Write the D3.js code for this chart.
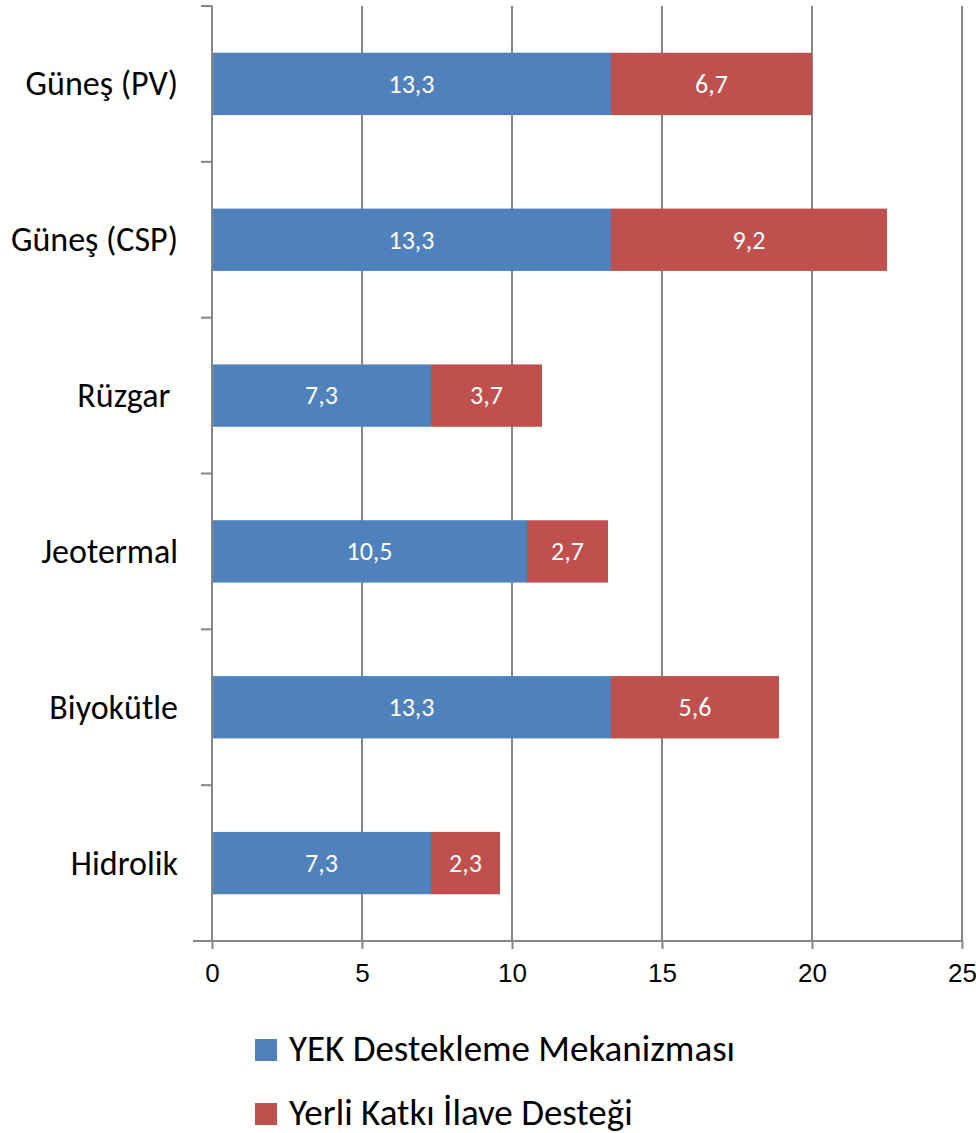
<!DOCTYPE html>
<html>
<head>
<meta charset="utf-8">
<script src="https://cdn.jsdelivr.net/npm/d3@7"></script>
<style>
  html, body { margin: 0; padding: 0; background: #ffffff; }
  svg { display: block; font-family: Carlito, Lato, "Open Sans", sans-serif; }
  text { white-space: pre; }
</style>
</head>
<body>
<svg id="chart" width="976" height="1133"></svg>
<script>
// Renewable energy support categories (top to bottom)
const categories = ["Güneş (PV)", "Güneş (CSP)", "Rüzgar ", "Jeotermal", "Biyokütle", "Hidrolik"];
// Support mechanism base price
const yekValues = [13.3, 13.3, 7.3, 10.5, 13.3, 7.3];
// Domestic content bonus
const yerliValues = [6.7, 9.2, 3.7, 2.7, 5.6, 2.3];
const seriesNames = ["YEK Destekleme Mekanizması", "Yerli Katkı İlave Desteği"];
const seriesColors = ["#4F81BD", "#C0504D"];
const xTicks = [0, 5, 10, 15, 20, 25];

const svg = d3.select("#chart");
const plot = { left: 212, right: 962, top: 6, bottom: 941 };
const gridColor = "#868686";

const x = d3.scaleLinear().domain([0, 25]).range([plot.left, plot.right]);
const y = d3.scaleBand()
  .domain(categories)
  .range([plot.top, plot.bottom])
  .paddingInner(0.6)
  .paddingOuter(0.3);

const fmt = v => d3.format(".1f")(v).replace(".", ",");

// Vertical gridlines
svg.append("g")
  .selectAll("line")
  .data(xTicks.slice(1))
  .join("line")
  .attr("x1", d => x(d)).attr("x2", d => x(d))
  .attr("y1", plot.top).attr("y2", plot.bottom)
  .attr("stroke", gridColor).attr("stroke-width", 2);

// Stacked data
const rows = categories.map((c, i) => ({ cat: c, parts: [
  { s: 0, x0: 0, x1: yekValues[i], v: yekValues[i] },
  { s: 1, x0: yekValues[i], x1: yekValues[i] + yerliValues[i], v: yerliValues[i] }
]}));

const barG = svg.append("g");
rows.forEach(r => {
  r.parts.forEach(p => {
    barG.append("rect")
      .attr("x", x(p.x0))
      .attr("y", y(r.cat))
      .attr("width", x(p.x1) - x(p.x0))
      .attr("height", y.bandwidth())
      .attr("fill", seriesColors[p.s]);
    barG.append("text")
      .attr("x", (x(p.x0) + x(p.x1)) / 2)
      .attr("y", y(r.cat) + y.bandwidth() / 2)
      .attr("dy", "0.34em")
      .attr("text-anchor", "middle")
      .attr("fill", "#ffffff")
      .attr("font-size", 26)
      .text(fmt(p.v));
  });
});

// Y axis line and category boundary ticks
const step = y.step();
svg.append("line")
  .attr("x1", plot.left).attr("x2", plot.left)
  .attr("y1", plot.top).attr("y2", plot.bottom)
  .attr("stroke", gridColor).attr("stroke-width", 2);
svg.append("g")
  .selectAll("line")
  .data(d3.range(categories.length + 1))
  .join("line")
  .attr("x1", plot.left - 11).attr("x2", plot.left)
  .attr("y1", i => plot.top + i * step).attr("y2", i => plot.top + i * step)
  .attr("stroke", gridColor).attr("stroke-width", 2);

// Category labels
svg.append("g")
  .selectAll("text")
  .data(categories)
  .join("text")
  .attr("x", 178)
  .attr("y", d => y(d) + y.bandwidth() / 2)
  .attr("dy", "0.34em")
  .attr("text-anchor", "end")
  .attr("font-size", 34)
  .attr("fill", "#000")
  .text(d => d);

// X axis
const xAxis = svg.append("g")
  .attr("transform", `translate(0,${plot.bottom})`)
  .call(d3.axisBottom(x).tickValues(xTicks).tickSize(8).tickPadding(15).tickFormat(d3.format("d")));
xAxis.select(".domain").remove();
xAxis.selectAll(".tick line").attr("stroke", gridColor).attr("stroke-width", 2);
xAxis.selectAll(".tick text").attr("font-size", 26).attr("fill", "#000").attr("font-family", null);
svg.append("line")
  .attr("x1", plot.left - 19).attr("x2", plot.right)
  .attr("y1", plot.bottom).attr("y2", plot.bottom)
  .attr("stroke", gridColor).attr("stroke-width", 2);

// Legend
const legend = svg.append("g");
seriesNames.forEach((name, i) => {
  const ly = 1039 + i * 64;
  legend.append("rect")
    .attr("x", 255).attr("y", ly)
    .attr("width", 22).attr("height", 22)
    .attr("fill", seriesColors[i]);
  legend.append("text")
    .attr("x", 289).attr("y", ly + 22)
    .attr("font-size", 37)
    .attr("fill", "#000")
    .text(name);
});
</script>
</body>
</html>
